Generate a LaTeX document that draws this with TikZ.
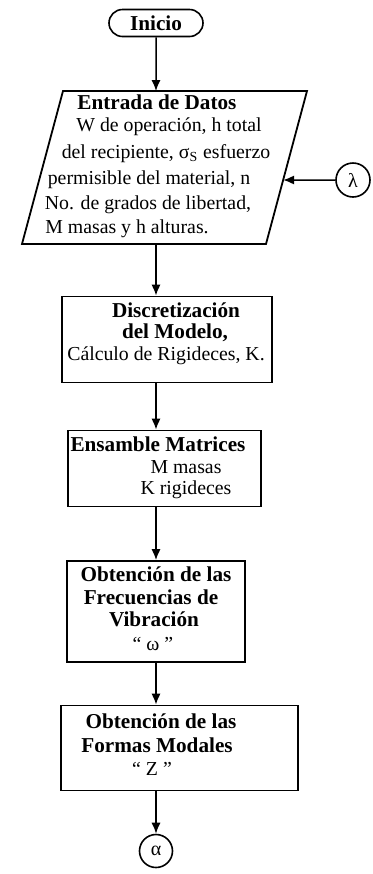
\documentclass[tikz,border=0pt]{standalone}
\usepackage{fontspec}
\setmainfont{Liberation Serif}
\usetikzlibrary{arrows.meta,shapes.misc}
\begin{document}
\begin{tikzpicture}[x=0.5pt,y=-0.5pt,
  arr/.style={-{Latex[length=5.5pt,width=4.6pt]}, line width=0.75pt},
  boxn/.style={draw, rectangle, inner sep=0pt, line width=0.9pt},
  bt/.style={font=\fontsize{10.6}{12}\selectfont\bfseries, inner sep=0pt},
  rt/.style={font=\fontsize{9.9}{12}\selectfont, inner sep=0pt},
  conn/.style={draw, circle, minimum size=17pt, inner sep=0pt, line width=0.8pt, font=\fontsize{10}{12}\selectfont}
]
\useasboundingbox (0,0) rectangle (373,874);

% start
\node[draw, rounded rectangle, minimum width=47pt, minimum height=13.5pt, inner sep=0pt, line width=0.8pt, bt] (inicio) at (156,23) {Inicio};

% input parallelogram
\coordinate (eTL) at (63,91);
\coordinate (eTR) at (307,91);
\coordinate (eBR) at (266,244);
\coordinate (eBL) at (22,244);
\draw[line width=0.9pt] (eTL) -- (eTR) -- (eBR) -- (eBL) -- cycle;
\coordinate (etop) at (156,91);
\coordinate (ebot) at (156,244);
\node[bt] (e1) at (157,102) {Entrada de Datos};
\node[rt] (e2) at (169,127) {W de operación, h total};
\node[rt] (e3) at (166,154) {del recipiente, σ\textsubscript{S} esfuerzo};
\node[rt] (e4) at (149,180) {permisible del material, n};
\node[rt] (e5) at (148,205) {No. de grados de libertad,};
\node[rt] (e6) at (127,229) {M masas y h alturas.};

% lambda connector
\node[conn] (lambda) at (353,180) {λ};
\coordinate (lamh) at (156,180);
\coordinate (lamtip) at (intersection of eTR--eBR and lambda--lamh);

% boxes
\node[boxn, minimum width=105pt, minimum height=43pt] (b2) at (167,339.5) {};
\node[bt] (b2a) at (176,310) {Discretización};
\node[bt] (b2b) at (175,333) {del Modelo,};
\node[rt] (b2c) at (166,356) {Cálculo de Rigideces, K.};

\node[boxn, minimum width=96.5pt, minimum height=38pt] (b3) at (164.5,468.5) {};
\node[bt] (b3a) at (158,444) {Ensamble Matrices};
\node[rt] (b3b) at (186,467) {M masas};
\node[rt] (b3c) at (186,490) {K rigideces};

\node[boxn, minimum width=89pt, minimum height=50.5pt] (b4) at (156,611.5) {};
\node[bt] (b4a) at (156,574) {Obtención de las};
\node[bt] (b4b) at (151,597) {Frecuencias de};
\node[bt] (b4c) at (154,619) {Vibración};
\node[rt] (b4d) at (153,644) {“ ω ”};

\node[boxn, minimum width=118.5pt, minimum height=42.5pt] (b5) at (179.5,748) {};
\node[bt] (b5a) at (161,721) {Obtención de las};
\node[bt] (b5b) at (157,745) {Formas Modales};
\node[rt] (b5c) at (152,769) {“ Z ”};

\node[conn, minimum size=16.5pt] (alpha) at (156,851) {α};

% connectors
\draw[arr] (inicio) -- (etop);
\draw[arr] (lambda) -- (lamtip);
\draw[arr] (ebot) -- (ebot |- b2.north);
\draw[arr] (ebot |- b2.south) -- (ebot |- b3.north);
\draw[arr] (ebot |- b3.south) -- (ebot |- b4.north);
\draw[arr] (b4) -- (b5.north -| b4);
\draw[arr] (b4 |- b5.south) -- (alpha);
\end{tikzpicture}
\end{document}
